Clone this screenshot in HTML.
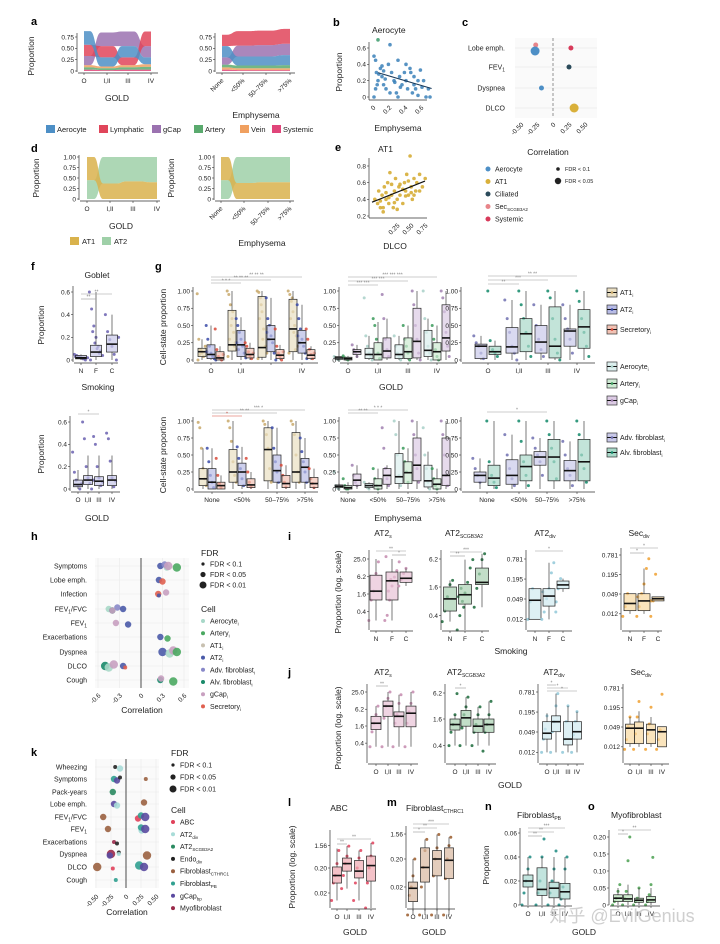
<!DOCTYPE html>
<html><head><meta charset="utf-8">
<style>
html,body{margin:0;padding:0;background:#fff;}
svg{display:block;font-family:"Liberation Sans",Arial,sans-serif;}
text{font-family:"Liberation Sans",Arial,sans-serif;}
</style></head>
<body>
<svg id="fig" width="720" height="944" viewBox="0 0 720 944" xmlns="http://www.w3.org/2000/svg">
<rect x="0" y="0" width="720" height="944" fill="#fff"/>
</svg>
<script>
// ---------- DATA ----------
// panel a
const aGoldCats=['O','I,II','III','IV'];
const aEmphCats=['None','<50%','50–75%','>75%'];
const aLayers=['Aerocyte','Lymphatic','gCap','Artery','Vein','Systemic'];
const aColors=['#4d8fc6','#e0455a','#9b72b0','#5aaa6e','#f0a060','#e0457a'];
const aGoldVals=[[0.30,0.20,0.25,0.15],[0.25,0.25,0.17,0.32],[0.20,0.30,0.32,0.25],[0.05,0.04,0.05,0.06],[0.05,0.04,0.05,0.06],[0.03,0.02,0.03,0.03]];
const aEmphVals=[[0.25,0.20,0.20,0.22],[0.25,0.32,0.32,0.33],[0.16,0.24,0.25,0.25],[0.06,0.06,0.06,0.07],[0.05,0.04,0.04,0.04],[0.03,0.02,0.02,0.02]];
// panel d
const dLayers=['AT1','AT2'];
const dColors=['#d9b24c','#9fd0a8'];
const dGoldVals=[[0.55,0.37,0.42,0.40],[0.45,0.63,0.58,0.60]];
const dEmphVals=[[0.55,0.38,0.40,0.40],[0.45,0.62,0.60,0.60]];
// panel b scatter (emphysema, proportion)
const bX=[0.05,0.0,0.02,0.03,0.05,0.08,0.1,0.12,0.15,0.18,0.2,0.22,0.25,0.28,0.3,0.32,0.35,0.38,0.4,0.42,0.45,0.48,0.5,0.52,0.55,0.58,0.6,0.62,0.65,0.7,0.02,0.06,0.1,0.14,0.2,0.26,0.33,0.4,0.46,0.55,0.0,0.04,0.12,0.3,0.5,0.68];
const bY=[0.7,0.5,0.45,0.3,0.2,0.35,0.25,0.15,0.1,0.4,0.64,0.3,0.2,0.05,0.45,0.25,0.15,0.3,0.2,0.1,0.35,0.05,0.25,0.1,0.02,0.33,0.12,0.2,0.0,0.0,0.1,0.28,0.38,0.22,0.05,0.18,0.12,0.4,0.3,0.2,0.0,0.15,0.32,0.0,0.15,0.1];
// panel e scatter (DLCO, proportion)
const eX=[0.05,0.1,0.12,0.15,0.18,0.2,0.22,0.25,0.28,0.3,0.32,0.35,0.38,0.4,0.42,0.45,0.48,0.5,0.55,0.58,0.6,0.62,0.65,0.68,0.7,0.72,0.75,0.78,0.8,0.85,0.9,0.95,0.15,0.25,0.35,0.45,0.55,0.65,0.75,0.85,0.2,0.3,0.4,0.5,0.6,0.7];
const eY=[0.4,0.35,0.5,0.3,0.45,0.25,0.55,0.4,0.6,0.35,0.72,0.45,0.3,0.5,0.65,0.4,0.55,0.45,0.35,0.6,0.5,0.7,0.45,0.92,0.55,0.4,0.65,0.5,0.6,0.7,0.55,0.65,0.38,0.48,0.58,0.28,0.52,0.62,0.45,0.5,0.3,0.42,0.36,0.58,0.44,0.48];
// panel c
const cRows=['Lobe emph.','FEV<tspan font-size="5" dy="2">1</tspan>','Dyspnea','DLCO'];
const cRowIdx=[0,0,0,1,2,3];
const cCorr=[-0.27,-0.28,0.28,0.25,-0.18,0.33];
const cCell=[3,0,4,2,0,1];
const cSize=[1,2,1,1,1,2];
const cCellNames=['Aerocyte','AT1','Ciliated','Sec<tspan font-size="4.5" dy="2">SCGB3A2</tspan>','Systemic'];
const cCellColors=['#4d8fc6','#d9b03a','#2a4a5a','#e8858a','#d83a5a'];
// panel h
const hRows=['Symptoms','Lobe emph.','Infection','FEV<tspan font-size="5" dy="2">1</tspan><tspan dy="-2">/FVC</tspan>','FEV<tspan font-size="5" dy="2">1</tspan>','Exacerbations','Dyspnea','DLCO','Cough'];
const hCellNames=['Aerocyte','Artery','AT1','AT2','Adv. fibroblast','Alv. fibroblast','gCap','Secretory'];
const hCellColors=['#a8d8c8','#4aa860','#c8c0b0','#4a5aa8','#8888c8','#1a8a6a','#c8a0c0','#e06050'];
const hRowIdx=[0,0,0,0,0,1,1,2,2,2,3,3,3,3,3,4,4,5,5,6,6,6,6,7,7,7,7,7,8,8,8];
const hCorr=[0.27,0.36,0.33,0.38,0.5,0.25,0.3,0.24,0.25,0.35,-0.45,-0.4,-0.33,-0.25,-0.4,-0.35,-0.18,0.27,0.37,0.3,0.4,0.45,0.5,-0.5,-0.45,-0.38,-0.25,-0.22,0.27,0.45,0.28];
const hCell=[3,0,4,6,1,3,7,7,3,6,0,5,4,3,6,6,3,3,1,3,0,6,1,5,0,6,3,7,5,1,6];
const hSize=[2,2,2,3,3,2,2,2,1,2,2,2,2,2,2,2,2,2,2,3,3,3,3,3,3,3,2,1,2,3,2];
// panel k
const kRows=['Wheezing','Symptoms','Pack-years','Lobe emph.','FEV<tspan font-size="5" dy="2">1</tspan><tspan dy="-2">/FVC</tspan>','FEV<tspan font-size="5" dy="2">1</tspan>','Exacerbations','Dyspnea','DLCO','Cough'];
const kCellNames=['ABC','AT2<tspan font-size="4.5" dy="2">div</tspan>','AT2<tspan font-size="4.5" dy="2">SCGB3A2</tspan>','Endo<tspan font-size="4.5" dy="2">div</tspan>','Fibroblast<tspan font-size="4.5" dy="2">CTHRC1</tspan>','Fibroblast<tspan font-size="4.5" dy="2">PB</tspan>','gCap<tspan font-size="4.5" dy="2">bp</tspan>','Myofibroblast'];
const kCellColors=['#e0405a','#a8dcd8','#2a8a60','#222','#9a6040','#30a090','#5a4aa0','#9a2a4a'];
const kRowIdx=[0,0,1,1,1,1,2,3,3,3,4,4,4,4,5,5,5,5,6,6,7,7,7,7,7,8,8,8,8,9];
const kCorr=[-0.18,-0.1,-0.2,-0.15,-0.1,0.33,-0.22,-0.2,-0.15,0.3,-0.38,0.2,0.25,0.32,-0.3,0.26,0.25,0.32,-0.2,-0.15,-0.25,-0.27,-0.12,-0.12,0.35,-0.48,-0.22,0.22,0.3,-0.17];
const kCell=[3,1,5,6,3,4,2,6,1,4,4,0,5,6,4,1,5,6,7,3,7,6,3,1,4,4,0,5,6,5];
const kSize=[1,2,2,2,1,1,2,2,2,2,2,2,2,3,2,2,2,3,1,1,3,2,1,1,3,3,1,3,3,1];
// panel g (stats: [low, q1, median, q3, high])
const gGoldCats=['O','I,II','III','IV'];
const gEmphCats=['None','<50%','50–75%','>75%'];
const gAT1Gold=[[0,0.05,0.12,0.17,0.3],[0,0.13,0.22,0.72,1],[0,0.04,0.18,0.92,1],[0,0.12,0.45,0.88,1]];
const gAT2Gold=[[0,0.02,0.08,0.22,0.5],[0,0.05,0.22,0.43,0.62],[0,0.12,0.3,0.5,0.9],[0,0.1,0.25,0.43,0.8]];
const gSecGold=[[0,0,0.03,0.12,0.2],[0,0.03,0.08,0.17,0.25],[0,0.02,0.07,0.15,0.22],[0,0.02,0.07,0.15,0.2]];
const gAeroGold=[[0,0.01,0.03,0.05,0.05],[0,0.02,0.08,0.17,0.35],[0,0.02,0.08,0.22,0.35],[0,0.05,0.14,0.43,0.6]];
const gArtGold=[[0,0,0.02,0.04,0.06],[0,0,0.08,0.25,0.55],[0,0.02,0.12,0.32,0.5],[0,0,0.12,0.25,0.5]];
const gCapGold=[[0.03,0.08,0.12,0.15,0.22],[0,0.03,0.13,0.32,0.6],[0,0.03,0.27,0.75,1],[0,0.13,0.32,0.8,1]];
const gAdvGold=[[0,0.02,0.2,0.23,0.35],[0,0.1,0.19,0.47,0.87],[0,0.1,0.26,0.5,0.8],[0,0.2,0.42,0.45,0.8]];
const gAlvGold=[[0,0.08,0.12,0.2,0.28],[0,0.12,0.38,0.6,1],[0,0.03,0.2,0.77,1],[0,0.17,0.48,0.73,1]];
const gAT1Emph=[[0,0.05,0.15,0.3,0.6],[0,0.1,0.25,0.58,1],[0,0.12,0.58,0.9,1],[0,0.1,0.25,0.83,1]];
const gAT2Emph=[[0,0,0.1,0.3,0.6],[0,0.05,0.25,0.38,0.62],[0,0.1,0.27,0.5,0.9],[0,0.1,0.32,0.45,0.75]];
const gSecEmph=[[0,0,0.05,0.1,0.2],[0,0.02,0.06,0.15,0.25],[0,0.02,0.08,0.2,0.35],[0,0.02,0.08,0.17,0.3]];
const gAeroEmph=[[0,0.02,0.04,0.06,0.08],[0,0.02,0.05,0.08,0.1],[0,0.08,0.18,0.52,1],[0,0.03,0.12,0.35,0.55]];
const gArtEmph=[[0,0,0.02,0.05,0.1],[0,0,0.05,0.15,0.3],[0,0.08,0.24,0.4,0.6],[0,0,0.07,0.15,0.3]];
const gCapEmph=[[0,0.05,0.13,0.22,0.35],[0,0.07,0.2,0.3,0.35],[0,0.12,0.35,0.75,1],[0,0.05,0.2,0.75,1]];
const gAdvEmph=[[0,0.1,0.2,0.25,0.45],[0,0.07,0.2,0.43,0.8],[0,0.35,0.47,0.55,0.75],[0,0.12,0.27,0.42,0.7]];
const gAlvEmph=[[0,0.05,0.16,0.35,1],[0,0.12,0.33,0.5,1],[0,0.12,0.47,0.73,1],[0,0.12,0.4,0.73,1]];
// point values per box (space separated)
const gAT1GoldPts=['0.96 0.3 0.15 0.1 0.05 0.2 0.12 0 0.08 0.14','1 0.95 0.8 0.6 0.4 0.25 0.15 0.05 0.3 0.5 0.7 0.2','1 0.98 0.9 0.7 0.45 0.2 0.1 0.02 0.6 0.8 0.3','1 0.95 0.85 0.7 0.5 0.35 0.2 0.1 0.6 0.9 0.4 0.15'];
const gAT2GoldPts=['0.5 0.3 0.2 0.1 0.05 0.02 0 0.12','0.6 0.5 0.4 0.3 0.2 0.1 0.03 0.25 0.15','0.9 0.6 0.5 0.35 0.25 0.1 0 0.4 0.3','0.8 0.6 0.45 0.3 0.2 0.1 0.02 0.35 0.25'];
const gSecGoldPts=['0.45 0.15 0.05 0.02 0 0.08','0.25 0.2 0.12 0.06 0.02 0.1','0.45 0.2 0.1 0.05 0 0.12','0.45 0.3 0.15 0.08 0.02 0.1'];
const gAeroGoldPts=['0.05 0.03 0.01 0','0.9 0.35 0.2 0.1 0.05 0','0.35 0.2 0.1 0.05 0','1 0.6 0.4 0.2 0.1 0'];
const gArtGoldPts=['0.06 0.03 0.01 0','0.6 0.5 0.3 0.1 0.02','0.5 0.3 0.2 0.1 0','0.5 0.3 0.15 0.05 0'];
const gCapGoldPts=['0.22 0.15 0.1 0.05','0.95 0.6 0.3 0.15 0.05','1 0.8 0.5 0.3 0.1 0','1 0.9 0.7 0.4 0.2 0.05'];
const gAdvGoldPts=['0.35 0.25 0.2 0.1 0.02','0.87 0.6 0.4 0.2 0.1 0','0.8 0.5 0.3 0.15 0.05','0.8 0.6 0.45 0.3 0.1'];
const gAlvGoldPts=['1 0.28 0.15 0.1 0.05','1 0.8 0.6 0.4 0.2 0.05','1 0.9 0.6 0.3 0.1 0','1 0.85 0.6 0.4 0.2 0.05'];
const gAT1EmphPts=['0.98 0.9 0.6 0.3 0.15 0.05','1 0.9 0.7 0.4 0.2 0.1','1 0.95 0.8 0.6 0.3 0.1','1 0.95 0.8 0.5 0.25 0.1'];
const gAT2EmphPts=['0.6 0.4 0.2 0.1 0.02','0.62 0.45 0.3 0.15 0.05','0.9 0.6 0.4 0.25 0.1','0.75 0.55 0.4 0.25 0.1'];
const gSecEmphPts=['0.45 0.2 0.08 0.02','0.45 0.25 0.1 0.03','0.35 0.2 0.1 0.03','0.3 0.15 0.08 0.02'];
const gAeroEmphPts=['0.25 0.05 0.02 0','0.1 0.05 0.02 0','1 0.8 0.5 0.2 0.05','0.9 0.5 0.3 0.1 0'];
const gArtEmphPts=['0.15 0.05 0 0','0.3 0.15 0.05 0','0.6 0.4 0.25 0.1','0.3 0.15 0.05 0'];
const gCapEmphPts=['0.35 0.2 0.1 0.05','0.9 0.6 0.3 0.15 0.05','1 0.8 0.5 0.3 0.1','1 0.8 0.5 0.2 0.05'];
const gAdvEmphPts=['0.45 0.3 0.2 0.1','0.8 0.5 0.3 0.15 0.05','0.75 0.6 0.5 0.4 0.2','0.7 0.5 0.3 0.2 0.05'];
const gAlvEmphPts=['1 0.4 0.2 0.1 0.02','1 0.7 0.4 0.2 0.05','1 0.8 0.6 0.4 0.15','1 0.8 0.5 0.3 0.1'];
// panel f
const fSmokeCats=['N','F','C'];
const fSmokeStats=[[0,0.01,0.02,0.04,0.05],[0,0.03,0.07,0.13,0.6],[0,0.07,0.14,0.22,0.4]];
const fSmokePts=['0.05 0.04 0.03 0.02 0.01 0 0.02 0.03','0.6 0.45 0.3 0.2 0.12 0.08 0.04 0 0.25 0.15 0.1 0.06','0.4 0.25 0.18 0.12 0.05 0 0.2'];
const fGoldCats=['O','I,II','III','IV'];
const fGoldStats=[[0,0.02,0.04,0.08,0.17],[0,0.04,0.08,0.12,0.3],[0,0.03,0.07,0.11,0.3],[0,0.03,0.08,0.12,0.3]];
const fGoldPts=['0.33 0.15 0.08 0.03 0 0.05','0.6 0.45 0.2 0.1 0.05 0 0.08','0.47 0.4 0.2 0.1 0.03 0.06','0.5 0.45 0.25 0.1 0.02 0.07'];
// panel i (smoking, log scale)
const iCats=['N','F','C'];
const iAT2s=[[0.2,1.0,2.0,7,25],[0.2,1.0,4.5,9,25],[3,4,5.5,9,12]];
const iAT2sPts=['0.2 1 2 8 20','0.2 0.3 1 3 6 10 20 30 2 5','3 5 8 12'];
const iSCGB=[[0.3,0.5,0.9,1.6,2.2],[0.2,0.7,1.1,1.8,6],[0.6,1.8,2,4,8]];
const iSCGBPts=['0.3 0.5 1 1.8 2.2','0.2 0.4 0.8 1.2 2 4 6 1 1.5 0.6','0.6 1.5 3 6 8'];
const iDiv=[[0.012,0.012,0.045,0.1,0.1],[0.012,0.03,0.06,0.1,0.6],[0.08,0.1,0.13,0.17,0.2]];
const iDivPts=['0.012 0.04 0.1','0.012 0.02 0.05 0.1 0.3 0.6 0.04 0.08','0.02 0.1 0.2'];
const iSec=[[0.012,0.015,0.025,0.05,0.05],[0.012,0.015,0.03,0.05,0.3],[0.03,0.03,0.035,0.04,0.04]];
const iSecPts=['0.01 0.02 0.05','0.01 0.02 0.05 0.1 0.3 0.6 0.03 0.04','0.01 0.03 0.2'];
// panel j (GOLD, log scale)
const jCats=['O','I,II','III','IV'];
const jAT2s=[[0.3,1.2,2,3.5,8],[0.3,3.5,8,12,25],[0.3,1.5,3.5,5,20],[0.3,1.5,4.5,8,25]];
const jAT2sPts=['0.3 1 2 4 8','0.3 3 8 15 25','0.3 2 4 10 20','0.3 2 5 10 25'];
const jSCGB=[[0.4,0.9,1.2,1.6,2],[0.4,1.1,1.7,2.5,5],[0.4,0.8,1.1,1.6,3],[0.4,0.8,1.2,1.6,4]];
const jSCGBPts=['0.4 0.8 1.2 2 6','0.4 1 2 3 5','0.4 0.8 1.2 2 3','0.3 0.8 1.2 2 4'];
const jDiv=[[0.012,0.03,0.045,0.1,0.18],[0.012,0.05,0.1,0.15,0.7],[0.012,0.02,0.03,0.1,0.3],[0.012,0.03,0.05,0.1,0.2]];
const jDivPts=['0.012 0.03 0.06 0.15','0.012 0.05 0.1 0.3 0.7','0.012 0.03 0.1 0.3','0.012 0.04 0.1 0.2'];
const jSec=[[0.012,0.015,0.045,0.06,0.1],[0.012,0.015,0.045,0.07,0.15],[0.012,0.015,0.04,0.06,0.1],[0.012,0.012,0.035,0.05,0.05]];
const jSecPts=['0.01 0.02 0.05 0.1','0.01 0.03 0.1 0.3','0.01 0.03 0.06 0.2','0.01 0.02 0.04 0.5'];
// panels l, m, n, o
const lmCats=['O','I,II','III','IV'];
const lABC=[[0.01,0.05,0.1,0.22,1.2],[0.03,0.15,0.3,0.5,1.5],[0.01,0.08,0.15,0.4,1],[0.005,0.06,0.25,0.6,2]];
const lABCPts=['0.01 0.05 0.1 0.3 1','0.03 0.1 0.3 0.6 1.5','0.01 0.05 0.2 0.5 1','0.005 0.05 0.2 0.6 2'];
const mCTH=[[0.002,0.006,0.018,0.03,0.2],[0.002,0.03,0.1,0.5,1],[0.002,0.05,0.2,0.4,1.5],[0.002,0.04,0.18,0.5,1.2]];
const mCTHPts=['0.002 0.01 0.02 0.05 0.2','0.002 0.02 0.1 0.4 1','0.002 0.05 0.2 0.5 1.5','0.002 0.04 0.2 0.6 1.2'];
const nPB=[[0,0.015,0.02,0.025,0.04],[0,0.008,0.013,0.031,0.04],[0,0.006,0.014,0.019,0.04],[0,0.005,0.011,0.018,0.04]];
const nPBPts=['0 0.01 0.02 0.03 0.04','0 0.01 0.02 0.04 0.055','0 0.01 0.02 0.03 0.045','0 0.005 0.015 0.03 0.04'];
const oMyo=[[0,0.01,0.02,0.03,0.05],[0,0.01,0.018,0.03,0.06],[0,0.008,0.014,0.02,0.05],[0,0.008,0.015,0.025,0.05]];
const oMyoPts=['0 0.01 0.02 0.04 0.06','0 0.02 0.04 0.13 0.2','0 0.01 0.02 0.05','0 0.01 0.03 0.06 0.14'];

// ---------- HELPERS ----------
const NS='http://www.w3.org/2000/svg';
const svg=document.getElementById('fig');
function E(tag,at,name,parent){
  const e=document.createElementNS(NS,tag);
  for(const k in at) e.setAttribute(k,at[k]);
  
  
  (parent||svg).appendChild(e);
  return e;
}
function T(x,y,s,name,o){
  o=o||{};
  const at={x:x,y:y,'font-size':o.fs||7,'text-anchor':o.a||'middle',fill:o.c||'#222'};
  if(o.b) at['font-weight']='bold';
  if(o.rot!==undefined) at.transform='rotate('+o.rot+' '+x+' '+y+')';
  const e=E('text',at,name);
  e.innerHTML=s;
  return e;
}
const lin=(d0,d1,r0,r1)=>v=>r0+(v-d0)/(d1-d0)*(r1-r0);
const logS=(v0,y0,v1,y1)=>v=>y0+(Math.log(v)-Math.log(v0))/(Math.log(v1)-Math.log(v0))*(y1-y0);
function line(x1,y1,x2,y2,name,c,w,dash){
  const at={x1:x1,y1:y1,x2:x2,y2:y2,stroke:c||'#333','stroke-width':w||0.7};
  if(dash) at['stroke-dasharray']=dash;
  return E('line',at,name);
}
function yAxis(x,yTop,yBot,ys,ticks,labels,name){
  line(x,yTop,x,yBot,name+'-line','#333',0.7);
  ticks.forEach((t,i)=>{
    const y=ys(t);
    line(x-2,y,x,y,name+'-tick','#333',0.6);
    T(x-3,y+2.3,labels[i],name+'-label',{a:'end',fs:6.5});
  });
}
function xAxisCats(y,x0,x1,xs,labels,name,rot){
  line(x0,y,x1,y,name+'-line','#333',0.7);
  labels.forEach((l,i)=>{
    line(xs[i],y,xs[i],y+2,name+'-tick','#333',0.6);
    if(rot) T(xs[i]+2,y+8,l,name+'-label',{a:'end',fs:6.5,rot:-45});
    else T(xs[i],y+10,l,name+'-label',{fs:6.5});
  });
}
function box(cx,w,st,ys,fill,pc,pts,name,pr){
  const p=pts.split(' ').map(Number);
  p.forEach((v,i)=>{
    const dx=(((i*7919)%13)/12-0.5)*w*1.2;
    E('circle',{cx:cx+dx,cy:ys(v),r:pr||1.5,fill:pc,'fill-opacity':0.85},name+'-point');
  });
  line(cx,ys(st[0]),cx,ys(st[1]),name+'-whisker','#222',0.6);
  line(cx,ys(st[3]),cx,ys(st[4]),name+'-whisker','#222',0.6);
  E('rect',{x:cx-w/2,y:ys(st[3]),width:w,height:Math.max(0.5,ys(st[1])-ys(st[3])),fill:fill,'fill-opacity':0.7,stroke:'#222','stroke-width':0.7},name+'-box');
  line(cx-w/2,ys(st[2]),cx+w/2,ys(st[2]),name+'-median','#111',1.6);
}
function stars(x1,x2,y,s,name,c){
  line(x1,y,x2,y,name,c||'#999',0.6);
  T((x1+x2)/2,y-0.5,s,name+'-stars',{fs:5,c:c||'#888'});
}
function stream(xs,vals,colors,ys,hw,name){
  const n=xs.length,L=vals.length;
  const y0=[],y1=[];
  for(let l=0;l<L;l++){y0.push([]);y1.push([]);}
  for(let i=0;i<n;i++){
    const ord=[...Array(L).keys()].sort((a,b)=>vals[a][i]-vals[b][i]);
    let acc=0;
    ord.forEach(l=>{y0[l][i]=acc;acc+=vals[l][i];y1[l][i]=acc;});
  }
  const drawOrder=[...Array(L).keys()].reverse();
  drawOrder.forEach(l=>{
    let d='';
    for(let i=0;i<n;i++){
      const a=xs[i]-(i===0?0:hw),b=xs[i]+(i===n-1?0:hw);
      const yy=ys(y1[l][i]);
      if(i===0) d+='M'+a+','+yy; else {
        const pb=xs[i-1]+hw, m=(pb+a)/2;
        d+=' C'+m+','+ys(y1[l][i-1])+' '+m+','+yy+' '+a+','+yy;
      }
      d+=' L'+b+','+yy;
    }
    for(let i=n-1;i>=0;i--){
      const a=xs[i]-(i===0?0:hw),b=xs[i]+(i===n-1?0:hw);
      const yy=ys(y0[l][i]);
      if(i===n-1) d+=' L'+b+','+yy; else {
        const na=xs[i+1]-hw, m=(na+b)/2;
        d+=' C'+m+','+ys(y0[l][i+1])+' '+m+','+yy+' '+b+','+yy;
      }
      d+=' L'+a+','+yy;
    }
    d+='Z';
    E('path',{d:d,fill:colors[l],'fill-opacity':0.85,stroke:'none'},name+'-layer');
  });
}
function letter(x,y,s){T(x,y,s,'panel-letter-'+s,{fs:11,b:1,a:'start',c:'#000'});}

// ---------- PANEL A ----------
letter(31,25,'a');
{
  const ys=lin(0,0.75,71,37);
  const xs=[84,107,128,151];
  stream(xs,aGoldVals,aColors,ys,6,'a-gold-stream');
  yAxis(77,33,72,ys,[0,0.25,0.5,0.75],['0','0.25','0.50','0.75'],'a-gold-y');
  xAxisCats(73,78,158,xs,aGoldCats,'a-gold-x');
  T(117,101,'GOLD','a-gold-x-title',{fs:8.5});
  T(34,56,'Proportion','a-y-title',{fs:8.5,rot:-90});
  const xs2=[222,243,266,290];
  stream(xs2,aEmphVals,aColors,ys,5,'a-emph-stream');
  yAxis(215,33,72,ys,[0,0.25,0.5,0.75],['0','0.25','0.50','0.75'],'a-emph-y');
  xAxisCats(73,216,295,xs2,aEmphCats,'a-emph-x',true);
  T(256,118,'Emphysema','a-emph-x-title',{fs:8.5});
  const lx=[46,99,152,194,240,272];
  aLayers.forEach((n,i)=>{
    E('rect',{x:lx[i],y:125,width:9,height:8,fill:aColors[i]},'a-legend-swatch');
    T(lx[i]+11,132,n,'a-legend-label',{a:'start',fs:7.5});
  });
}
// ---------- PANEL B ----------
letter(333,26,'b');
{
  T(372,33,'Aerocyte','b-title',{fs:8.5,a:'start'});
  const xs=lin(0,0.6,374,422), ys=lin(0,0.6,97,48);
  bX.forEach((x,i)=>{
    E('circle',{cx:xs(x),cy:ys(bY[i]),r:1.8,fill:i===0?'#3a9a6a':'#3a80b8','fill-opacity':0.85},'b-point');
  });
  const n=bX.length,mx=bX.reduce((a,b)=>a+b)/n,my=bY.reduce((a,b)=>a+b)/n;
  let sxy=0,sxx=0;bX.forEach((x,i)=>{sxy+=(x-mx)*(bY[i]-my);sxx+=(x-mx)*(x-mx);});
  const sl=sxy/sxx,ic=my-sl*mx;
  line(xs(0.05),ys(ic+sl*0.05),xs(0.72),ys(ic+sl*0.72),'b-trend-line','#1a3a5a',1);
  yAxis(369,42,100,ys,[0,0.2,0.4,0.6],['0','0.2','0.4','0.6'],'b-y');
  line(369,100,427,100,'b-x-line');
  [0,0.2,0.4,0.6].forEach(t=>T(xs(t)+2,108,t===0?'0':String(t),'b-x-label',{a:'end',fs:6.5,rot:-45}));
  T(398,131,'Emphysema','b-x-title',{fs:8.5});
  T(342,72,'Proportion','b-y-title',{fs:8.5,rot:-90});
}
// ---------- PANEL C ----------
letter(462,26,'c');
{
  const xs=lin(0,0.5,553,585), rowY=[48,67,88,108];
  E('rect',{x:515,y:38,width:82,height:80,fill:'#fafafa'},'c-plot-bg');
  rowY.forEach((y,i)=>{
    line(515,y,597,y,'c-grid','#eee',1);
    T(505,y+2.5,cRows[i],'c-row-label',{a:'end',fs:7});
  });
  line(553,38,553,118,'c-zero-line','#666',0.7,'3,2');
  cCorr.forEach((v,i)=>{
    const dy=(i===0?-3:(i===1?3:0));
    E('circle',{cx:xs(v),cy:rowY[cRowIdx[i]]+dy,r:cSize[i]===2?4.5:2.5,fill:cCellColors[cCell[i]]},'c-dot');
  });
  [-0.5,-0.25,0,0.25,0.5].forEach(t=>T(xs(t)+3,125,t===0?'0':t.toFixed(2),'c-x-label',{a:'end',fs:6.5,rot:-45}));
  T(548,155,'Correlation','c-x-title',{fs:8.5});
  cCellNames.forEach((n,i)=>{
    E('circle',{cx:488,cy:169+i*12.5,r:2.5,fill:cCellColors[i]},'c-legend-dot');
    T(495,171.5+i*12.5,n,'c-legend-label',{a:'start',fs:7});
  });
  E('circle',{cx:558,cy:169,r:1.8,fill:'#222'},'c-fdr-dot');
  T(565,171,'FDR &lt; 0.1','c-fdr-label',{a:'start',fs:5.5});
  E('circle',{cx:558,cy:181,r:3.2,fill:'#222'},'c-fdr-dot');
  T(565,183,'FDR &lt; 0.05','c-fdr-label',{a:'start',fs:5.5});
}
// ---------- PANEL D ----------
letter(31,152,'d');
{
  const ys=lin(0,1,199,157);
  const xs=[87,110,133,157];
  stream(xs,dGoldVals,dColors,ys,7,'d-gold-stream');
  yAxis(79,155,200,ys,[0,0.25,0.5,0.75,1],['0','0.25','0.50','0.75','1.00'],'d-gold-y');
  xAxisCats(201,80,160,xs,aGoldCats,'d-gold-x');
  T(121,229,'GOLD','d-gold-x-title',{fs:8.5});
  T(39,178,'Proportion','d-y-title',{fs:8.5,rot:-90});
  const xs2=[221,244,268,290];
  stream(xs2,dEmphVals,dColors,ys,7,'d-emph-stream');
  yAxis(214,155,200,ys,[0,0.25,0.5,0.75,1],['0','0.25','0.50','0.75','1.00'],'d-emph-y');
  xAxisCats(201,215,294,xs2,aEmphCats,'d-emph-x',true);
  T(174,178,'Proportion','d-y-title-2',{fs:8.5,rot:-90});
  T(262,246,'Emphysema','d-emph-x-title',{fs:8.5});
  dLayers.forEach((n,i)=>{
    E('rect',{x:70+i*32,y:237,width:9,height:8,fill:dColors[i]},'d-legend-swatch');
    T(82+i*32,244,n,'d-legend-label',{a:'start',fs:7.5});
  });
}
// ---------- PANEL E ----------
letter(335,151,'e');
{
  T(378,152,'AT1','e-title',{fs:8.5,a:'start'});
  const xs=lin(0,1,369,425), ys=lin(0.2,0.8,216,166);
  eX.forEach((x,i)=>E('circle',{cx:xs(x)+3,cy:ys(eY[i]),r:1.8,fill:'#d4a82a','fill-opacity':0.85},'e-point'));
  const n=eX.length,mx=eX.reduce((a,b)=>a+b)/n,my=eY.reduce((a,b)=>a+b)/n;
  let sxy=0,sxx=0;eX.forEach((x,i)=>{sxy+=(x-mx)*(eY[i]-my);sxx+=(x-mx)*(x-mx);});
  const sl=sxy/sxx,ic=my-sl*mx;
  line(xs(0)+3,ys(ic),xs(1),ys(ic+sl*0.95),'e-trend-line','#111',1.2);
  yAxis(369,158,218,ys,[0.2,0.4,0.6,0.8],['0.2','0.4','0.6','0.8'],'e-y');
  line(369,218,427,218,'e-x-line');
  [0.25,0.5,0.75].forEach(t=>T(xs(t)+17,226,t.toFixed(2),'e-x-label',{a:'end',fs:6.5,rot:-45}));
  T(395,249,'DLCO','e-x-title',{fs:8.5});
}
// ---------- PANEL F ----------
letter(31,270,'f');
{
  T(97,278,'Goblet','f-title',{fs:8.5});
  const ys=lin(0,0.6,360,292);
  const xs=[81,96,112];
  fSmokeStats.forEach((st,i)=>box(xs[i],11,st,ys,'#c8c8e8','#6a60b0',fSmokePts[i],'f-smoking-'+fSmokeCats[i]));
  yAxis(73,286,362,ys,[0,0.2,0.4,0.6],['0','0.2','0.4','0.6'],'f-smoking-y');
  xAxisCats(363,74,118,xs,fSmokeCats,'f-smoking-x');
  stars(81,112,294,'**','f-sig');stars(81,96,299,'**','f-sig');
  T(98,390,'Smoking','f-smoking-x-title',{fs:8.5});
  T(44,325,'Proportion','f-y-title',{fs:8.5,rot:-90});
  const ys2=lin(0,0.6,489,422);
  const xs2=[78,88,99,112];
  fGoldStats.forEach((st,i)=>box(xs2[i],9,st,ys2,'#c8c8e8','#6a60b0',fGoldPts[i],'f-gold-'+i));
  yAxis(70,416,491,ys2,[0,0.2,0.4,0.6],['0','0.2','0.4','0.6'],'f-gold-y');
  xAxisCats(492,71,120,xs2,fGoldCats,'f-gold-x');
  stars(78,99,414,'*','f-gold-sig');
  T(97,521,'GOLD','f-gold-x-title',{fs:8.5});
  T(44,454,'Proportion','f-gold-y-title',{fs:8.5,rot:-90});
}
// ---------- PANEL G ----------
letter(155,270,'g');
{
  const C={at1:['#eadfc2','#c8a86a'],at2:['#b8bce6','#3a4aa8'],sec:['#f2c2b4','#d84a3a'],aero:['#dcefee','#a8d0c8'],art:['#cde9d2','#3a9a5a'],gcap:['#dccbe4','#a080b0'],adv:['#c9c9e9','#7070b0'],alv:['#a9d9c9','#108868']};
  function sub(x0,x1,yTop,yBot,xs,cats,series,name,wd,showCats){
    const ys=lin(0,1,yBot,yTop);
    series.forEach(s=>{
      s.stats.forEach((st,i)=>box(xs[i]+s.off,wd,st,ys,s.c[0],s.c[1],s.pts[i],name+'-'+s.n+'-'+cats[i]));
    });
    yAxis(x0,yTop-4,yBot+2,ys,[0,0.25,0.5,0.75,1],['0','0.25','0.50','0.75','1.00'],name+'-y');
    const lab=cats.map((c,i)=>showCats&&showCats[i]===0?'':c);
    xAxisCats(yBot+3,x0+1,x1,xs,lab,name+'-x');
  }
  sub(193,318,291,360,[211,241,271,302],gGoldCats,[{n:'AT1',stats:gAT1Gold,pts:gAT1GoldPts,c:C.at1,off:-9},{n:'AT2',stats:gAT2Gold,pts:gAT2GoldPts,c:C.at2,off:0},{n:'Sec',stats:gSecGold,pts:gSecGoldPts,c:C.sec,off:9}],'g-gold-epi',8,[1,1,0,1]);
  sub(339,457,291,360,[348,378,408,437],gGoldCats,[{n:'Aero',stats:gAeroGold,pts:gAeroGoldPts,c:C.aero,off:-9},{n:'Artery',stats:gArtGold,pts:gArtGoldPts,c:C.art,off:0},{n:'gCap',stats:gCapGold,pts:gCapGoldPts,c:C.gcap,off:9}],'g-gold-endo',8);
  sub(461,595,291,360,[488,519,548,577],gGoldCats,[{n:'Adv',stats:gAdvGold,pts:gAdvGoldPts,c:C.adv,off:-7},{n:'Alv',stats:gAlvGold,pts:gAlvGoldPts,c:C.alv,off:7}],'g-gold-fib',12);
  T(391,390,'GOLD','g-gold-x-title',{fs:8.5});
  sub(193,318,421,489,[212,242,277,305],gEmphCats,[{n:'AT1',stats:gAT1Emph,pts:gAT1EmphPts,c:C.at1,off:-9},{n:'AT2',stats:gAT2Emph,pts:gAT2EmphPts,c:C.at2,off:0},{n:'Sec',stats:gSecEmph,pts:gSecEmphPts,c:C.sec,off:9}],'g-emph-epi',8);
  sub(339,457,421,489,[348,378,408,437],gEmphCats,[{n:'Aero',stats:gAeroEmph,pts:gAeroEmphPts,c:C.aero,off:-9},{n:'Artery',stats:gArtEmph,pts:gArtEmphPts,c:C.art,off:0},{n:'gCap',stats:gCapEmph,pts:gCapEmphPts,c:C.gcap,off:9}],'g-emph-endo',8);
  sub(461,595,421,489,[487,519,547,577],gEmphCats,[{n:'Adv',stats:gAdvEmph,pts:gAdvEmphPts,c:C.adv,off:-7},{n:'Alv',stats:gAlvEmph,pts:gAlvEmphPts,c:C.alv,off:7}],'g-emph-fib',12);
  T(398,521,'Emphysema','g-emph-x-title',{fs:8.5});
  T(166,327,'Cell-state proportion','g-y-title',{fs:8.5,rot:-90});
  T(166,455,'Cell-state proportion','g-y-title-2',{fs:8.5,rot:-90});
  stars(211,241,283,'* * *','g-sig');stars(211,271,280,'** ** **','g-sig');stars(211,302,277,'** ** **','g-sig');
  stars(348,378,285,'*** ***','g-sig');stars(348,408,281,'*** ***','g-sig');stars(348,437,277,'*** *** ***','g-sig');
  stars(488,519,284,'**','g-sig');stars(488,548,280,'***','g-sig');stars(488,577,276,'** **','g-sig');
  stars(212,242,416,'*','g-sig','#d84a3a');stars(212,277,413,'** **','g-sig');stars(212,305,410,'*** *','g-sig');
  stars(348,378,413,'** **','g-sig');stars(348,408,410,'* * *','g-sig');
  stars(487,547,412,'*','g-sig');
  const lg=[['AT1<tspan font-size="4.5" dy="2">i</tspan>',293,C.at1],['AT2<tspan font-size="4.5" dy="2">i</tspan>',310,C.at2],['Secretory<tspan font-size="4.5" dy="2">i</tspan>',330,C.sec],['Aerocyte<tspan font-size="4.5" dy="2">i</tspan>',367,C.aero],['Artery<tspan font-size="4.5" dy="2">i</tspan>',384,C.art],['gCap<tspan font-size="4.5" dy="2">i</tspan>',401,C.gcap],['Adv. fibroblast<tspan font-size="4.5" dy="2">i</tspan>',438,C.adv],['Alv. fibroblast<tspan font-size="4.5" dy="2">i</tspan>',453,C.alv]];
  lg.forEach(l=>{
    E('rect',{x:607,y:l[1]-5,width:10,height:9,fill:l[2][0],stroke:'#333','stroke-width':0.7},'g-legend-key');
    line(607,l[1]-0.5,617,l[1]-0.5,'g-legend-key-median','#111',1);
    E('circle',{cx:612,cy:l[1]-0.5,r:1.3,fill:l[2][1]},'g-legend-key-dot');
    T(620,l[1]+2,l[0],'g-legend-label',{a:'start',fs:7});
  });
}
// ---------- DOT PANELS H & K ----------
function dotPanel(rows,rowY,x0,x1,xs,zero,ticks,tickLabels,idx,corr,cell,size,colors,name,tickY,titleY){
  E('rect',{x:x0,y:rowY[0]-8,width:x1-x0,height:rowY[rowY.length-1]-rowY[0]+16,fill:'#fafafa'},name+'-plot-bg');
  ticks.forEach(t=>line(xs(t),rowY[0]-8,xs(t),rowY[rowY.length-1]+8,name+'-vgrid','#eee',0.8));
  rows.forEach((r,i)=>{
    line(x0,rowY[i],x1,rowY[i],name+'-grid','#eee',0.8);
    T(87,rowY[i]+2.5,r,name+'-row-label',{a:'end',fs:7});
  });
  line(zero,rowY[0]-8,zero,rowY[rowY.length-1]+8,name+'-zero-line','#222',0.8);
  const seen={};
  corr.forEach((v,i)=>{
    const k=idx[i]; seen[k]=(seen[k]||0)+1;
    const dy=((seen[k]%3)-1)*1.5;
    E('circle',{cx:xs(v),cy:rowY[k]+dy,r:size[i]===3?4.2:(size[i]===2?3.2:2),fill:colors[cell[i]],'fill-opacity':0.9},name+'-dot');
  });
  ticks.forEach((t,i)=>T(xs(t)+3,tickY,tickLabels[i],name+'-x-label',{a:'end',fs:6.5,rot:-45}));
  T((x0+x1)/2,titleY,'Correlation',name+'-x-title',{fs:8.5});
}
letter(31,540,'h');
{
  const rowY=[566,580,594,609,623,637,652,666,680];
  const xs=lin(0,0.3,141,162.5);
  dotPanel(hRows,rowY,95,189,xs,141,[-0.6,-0.3,0,0.3,0.6],['-0.6','-0.3','0','0.3','0.6'],hRowIdx,hCorr,hCell,hSize,hCellColors,'h',696,713);
  T(201,556,'FDR','h-fdr-title',{fs:8.5,a:'start'});
  ['FDR &lt; 0.1','FDR &lt; 0.05','FDR &lt; 0.01'].forEach((s,i)=>{
    E('circle',{cx:203,cy:564+i*10.5,r:[1.6,2.6,3.5][i],fill:'#222'},'h-fdr-dot');
    T(210,566.5+i*10.5,s,'h-fdr-label',{a:'start',fs:7});
  });
  T(201,612,'Cell','h-cell-title',{fs:8.5,a:'start'});
  hCellNames.forEach((n,i)=>{
    E('circle',{cx:203,cy:621+i*12.2,r:2,fill:hCellColors[i]},'h-legend-dot');
    T(210,623.5+i*12.2,n+'<tspan font-size="4.5" dy="2">i</tspan>','h-legend-label',{a:'start',fs:7});
  });
}
letter(31,756,'k');
{
  const rowY=[767,779,792,804,817,829,842,854,867,880];
  const xs=lin(0,0.25,126,141);
  dotPanel(kRows,rowY,95,159,xs,126,[-0.5,-0.25,0,0.25,0.5],['-0.50','-0.25','0','0.25','0.50'],kRowIdx,kCorr,kCell,kSize,kCellColors,'k',897,915);
  T(171,756,'FDR','k-fdr-title',{fs:8.5,a:'start'});
  ['FDR &lt; 0.1','FDR &lt; 0.05','FDR &lt; 0.01'].forEach((s,i)=>{
    E('circle',{cx:173,cy:765+i*12,r:[1.6,2.6,3.5][i],fill:'#222'},'k-fdr-dot');
    T(180,767.5+i*12,s,'k-fdr-label',{a:'start',fs:7});
  });
  T(171,813,'Cell','k-cell-title',{fs:8.5,a:'start'});
  kCellNames.forEach((n,i)=>{
    E('circle',{cx:173,cy:822+i*12.3,r:2,fill:kCellColors[i]},'k-legend-dot');
    T(180,824.5+i*12.3,n,'k-legend-label',{a:'start',fs:7});
  });
}
// ---------- PANELS I & J ----------
function logPanel(ax0,ax1,yTop,yBot,xs,cats,stats,pts,ys,ticks,labels,fill,pc,name,title,tx,ty,wd){
  if(title) T(tx,ty,title,name+'-title',{fs:8.5});
  stats.forEach((st,i)=>box(xs[i],wd,st,ys,fill,pc,pts[i],name+'-'+cats[i],1.5));
  yAxis(ax0,yTop,yBot,ys,ticks,labels,name+'-y');
  xAxisCats(yBot+1,ax0+1,ax1,xs,cats,name+'-x');
}
letter(288,540,'i');
{
  logPanel(369,413,550,630,[376,392,406],iCats,iAT2s,iAT2sPts,logS(1.6,594,25,559),[0.4,1.6,6.2,25],['0.4','1.6','6.2','25.0'],'#e8c2d6','#c48aae','i-at2s','AT2<tspan font-size="5" dy="2">s</tspan>',383,536,12);
  logPanel(441,489,550,630,[450,465,482],iCats,iSCGB,iSCGBPts,logS(1.6,587,6.2,559),[0.4,1.6,6.2],['0.4','1.6','6.2'],'#a8d0b0','#1a6a3a','i-scgb','AT2<tspan font-size="5" dy="2">SCGB3A2</tspan>',464,536,13);
  logPanel(526,572,550,630,[535,549,563],iCats,iDiv,iDivPts,logS(0.049,599,0.781,559),[0.012,0.049,0.195,0.781],['0.012','0.049','0.195','0.781'],'#d0eaf0','#90c8d8','i-div','AT2<tspan font-size="5" dy="2">div</tspan>',545,536,12);
  logPanel(621,662,548,630,[630,644,658],iCats,iSec,iSecPts,logS(0.049,594,0.781,555),[0.012,0.049,0.195,0.781],['0.012','0.049','0.195','0.781'],'#f8d8a0','#f0a030','i-sec','Sec<tspan font-size="5" dy="2">div</tspan>',639,536,12);
  stars(376,406,551,'**','i-sig');stars(392,406,555,'*','i-sig');
  stars(450,482,552,'***','i-sig');stars(450,465,556,'**','i-sig');
  stars(535,563,551,'*','i-sig');stars(630,658,548,'*','i-sig');stars(630,644,553,'*','i-sig');
  T(511,654,'Smoking','i-x-title',{fs:8.5});
  T(341,592,'Proportion (log. scale)','ij-y-title',{fs:8.5,rot:-90});
}
letter(288,676,'j');
{
  logPanel(367,418,684,763,[376,388,399,411],jCats,jAT2s,jAT2sPts,logS(1.6,726,25,692),[0.4,1.6,6.2,25],['0.4','1.6','6.2','25.0'],'#e8c2d6','#c48aae','j-at2s','AT2<tspan font-size="5" dy="2">s</tspan>',383,675,10);
  logPanel(445,496,684,763,[455,466,478,489],jCats,jSCGB,jSCGBPts,logS(1.6,719,6.2,693),[0.4,1.6,6.2],['0.4','1.6','6.2'],'#a8d0b0','#1a6a3a','j-scgb','AT2<tspan font-size="5" dy="2">SCGB3A2</tspan>',466,675,10);
  logPanel(538,584,684,763,[547,556,568,577],jCats,jDiv,jDivPts,logS(0.049,732,0.781,692),[0.012,0.049,0.195,0.781],['0.012','0.049','0.195','0.781'],'#d0eaf0','#90c8d8','j-div','AT2<tspan font-size="5" dy="2">div</tspan>',554,675,9);
  logPanel(623,669,684,763,[630,639,651,662],jCats,jSec,jSecPts,logS(0.049,727,0.781,688),[0.012,0.049,0.195,0.781],['0.012','0.049','0.195','0.781'],'#f8d8a0','#f0a030','j-sec','Sec<tspan font-size="5" dy="2">div</tspan>',641,675,9);
  stars(376,388,686,'**','j-sig');stars(455,466,688,'*','j-sig');
  stars(547,556,685,'*','j-sig');stars(547,568,688,'*','j-sig');stars(547,577,691,'*','j-sig');
  T(510,788,'GOLD','j-x-title',{fs:8.5});
  T(341,728,'Proportion (log. scale)','j-y-title',{fs:8.5,rot:-90});
}
// ---------- PANELS L M N O ----------
letter(288,806,'l');
T(339,811,'ABC','l-title',{fs:8.5});
logPanel(330,376,830,908,[337,347,359,371],lmCats,lABC,lABCPts,logS(0.02,893,0.2,868),[0.02,0.2,1.56],['0.02','0.20','1.56'],'#f0a8b0','#e0405a','l-abc','',0,0,9);
stars(337,347,844,'**','l-sig');stars(337,371,839,'**','l-sig');
T(355,935,'GOLD','l-x-title',{fs:8.5});
T(295,867,'Proportion (log. scale)','l-y-title',{fs:8.5,rot:-90});
letter(387,806,'m');
T(406,811,'Fibroblast<tspan font-size="5" dy="2">CTHRC1</tspan>','m-title',{fs:8.5,a:'start'});
logPanel(406,455,826,908,[413,425,437,449],lmCats,mCTH,mCTHPts,logS(0.02,887,0.2,859),[0.02,0.2,1.56],['0.02','0.20','1.56'],'#d8b8a0','#9a5a2a','m-cthrc1','',0,0,9);
stars(413,449,824,'***','m-sig');stars(413,437,828,'**','m-sig');stars(413,425,832,'*','m-sig');
T(434,935,'GOLD','m-x-title',{fs:8.5});
letter(485,810,'n');
T(517,818,'Fibroblast<tspan font-size="5" dy="2">PB</tspan>','n-title',{fs:8.5,a:'start'});
logPanel(520,572,828,905,[528,542,554,565],lmCats,nPB,nPBPts,lin(0,0.06,905,833),[0,0.02,0.04,0.06],['0','0.02','0.04','0.06'],'#a8d8d0','#1a8a80','n-pb','',0,0,10);
stars(528,565,828,'***','n-sig');stars(528,554,832,'**','n-sig');stars(528,542,836,'**','n-sig');
T(489,865,'Proportion','n-y-title',{fs:8.5,rot:-90});
T(584,935,'GOLD','no-x-title',{fs:8.5});
letter(588,810,'o');
T(611,818,'Myofibroblast','o-title',{fs:8.5,a:'start'});
logPanel(609,660,830,905,[618,628,639,651],lmCats,oMyo,oMyoPts,lin(0,0.2,905,837),[0,0.05,0.1,0.15,0.2],['0','0.05','0.10','0.15','0.20'],'#b8e0b8','#4aa050','o-myo','',0,0,9);
stars(618,651,830,'**','o-sig');stars(618,628,834,'*','o-sig');
// watermark
T(622,922,'知乎 @EvilGenius','watermark',{fs:18,c:'#cfcfcf'}).setAttribute('font-family','"Liberation Sans","Noto Sans CJK SC",sans-serif');
</script>
</body></html>
